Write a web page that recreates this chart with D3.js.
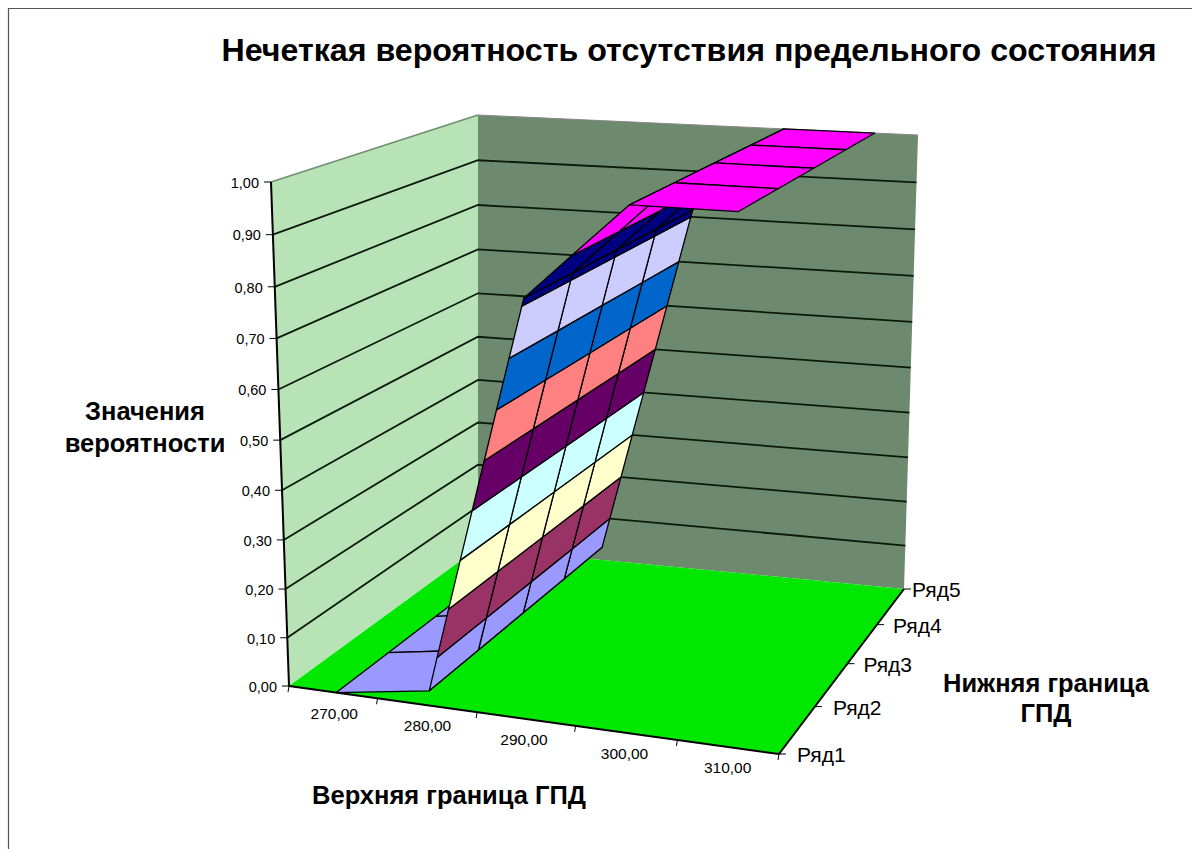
<!DOCTYPE html>
<html><head><meta charset="utf-8">
<script src="https://cdn.jsdelivr.net/npm/d3@7"></script>
<style>html,body{margin:0;padding:0;background:#fff}svg{display:block}text{font-family:"Liberation Sans",Arial,sans-serif;fill:#000}</style>
</head><body><svg id="c" width="1192" height="849"></svg>
<script>
const categories=[270,280,290,300,310];
const rowNames=["Ряд1","Ряд2","Ряд3","Ряд4","Ряд5"];
const row1=[0,0.03,0.815,1,1];
const row2=[0,0.03,0.815,1,1];
const row3=[0,0.03,0.815,1,1];
const row4=[0,0.03,0.815,1,1];
const row5=[0,0.03,0.815,1,1];
const rowsData=[row1,row2,row3,row4,row5];
const valueTicks=[0,0.1,0.2,0.3,0.4,0.5,0.6,0.7,0.8,0.9,1];
const bandColors=["#9999ff","#993366","#ffffcc","#ccffff","#660066","#ff8080","#0066cc","#ccccff","#000080","#ff00ff"];
const title="Нечеткая вероятность отсутствия предельного состояния";

const W=1192,H=849;
const svg=d3.select("#c");
// box corners on screen: [front-left, front-right, back-right, back-left]
const floorQ=[[289,686],[779,754],[904,589],[478,548]];
const topQ=[[271,182],[790,215],[918,135],[478,115]];
function quadMap(q){
  const [p0,p1,p2,p3]=q; // (0,0),(1,0),(1,1),(0,1)
  const dx1=p1[0]-p2[0],dx2=p3[0]-p2[0],sx=p0[0]-p1[0]+p2[0]-p3[0];
  const dy1=p1[1]-p2[1],dy2=p3[1]-p2[1],sy=p0[1]-p1[1]+p2[1]-p3[1];
  const d=dx1*dy2-dx2*dy1;
  const g=(sx*dy2-dx2*sy)/d,h=(dx1*sy-sx*dy1)/d;
  const a=p1[0]-p0[0]+g*p1[0],b=p3[0]-p0[0]+h*p3[0],c=p0[0];
  const e=p1[1]-p0[1]+g*p1[1],f=p3[1]-p0[1]+h*p3[1],i=p0[1];
  return (u,v)=>{const w=g*u+h*v+1;return[(a*u+b*v+c)/w,(e*u+f*v+i)/w];};
}
const fl=quadMap(floorQ),tp=quadMap(topQ);
const uScale=d3.scaleLinear().domain([265,270,275,280,290,300,310,315]).range([0,.108,.2,.313,.515,.715,.91,1]);
const vScale=d3.scalePoint().domain(rowNames).range([0,1]);
const zScale=d3.scaleLinear().domain([0,1]).range([0,1]);
const K=1.05;
function proj(u,v,z){
  const t0=zScale(z),t=t0/(t0+(1-t0)*K);
  const a=fl(u,v),b=tp(u,v);
  return[a[0]+(b[0]-a[0])*t,a[1]+(b[1]-a[1])*t];
}
const line=d3.line();
const poly=pts=>line(pts)+"Z";

// frame
svg.append("path").attr("d",`M8.5,849V8.5H${W}`).attr("fill","none").attr("stroke","#555").attr("stroke-width",1.2);

// walls and floor
svg.append("path").attr("d",poly([proj(0,0,0),proj(0,0,1),proj(0,1,1),proj(0,1,0)])).attr("fill","#b7e3b7");
svg.append("path").attr("d",poly([proj(0,1,0),proj(0,1,1),proj(1,1,1),proj(1,1,0)])).attr("fill","#6e8a6e");
svg.append("path").attr("d",poly([proj(0,0,0),proj(1,0,0),proj(1,1,0),proj(0,1,0)])).attr("fill","#00e800");
// wall edges
svg.append("path").attr("d",line([proj(0,0,1),proj(0,1,1)])).attr("fill","none").attr("stroke","#6f8f6f").attr("stroke-width",1.5);
svg.append("path").attr("d",line([proj(0,1,1),proj(1,1,1)])).attr("fill","none").attr("stroke","#888").attr("stroke-width",1);
// gridlines
valueTicks.slice(1,-1).forEach(z=>{
  svg.append("path").attr("d",line([proj(0,0,z),proj(0,1,z),proj(1,1,z)])).attr("fill","none").attr("stroke","#0a1a0a").attr("stroke-width",1.8);
});

// surface
function clip(pts,lo,hi){
  const cut=(P,inside,lev)=>{const out=[];P.forEach((a,i)=>{const b=P[(i+1)%P.length];const ia=inside(a),ib=inside(b);
    if(ia)out.push(a);
    if(ia!==ib){const s=(lev-a[2])/(b[2]-a[2]);out.push([a[0]+(b[0]-a[0])*s,a[1]+(b[1]-a[1])*s,lev]);}
  });return out;};
  let r=cut(pts,p=>p[2]>=lo,lo);
  if(r.length)r=cut(r,p=>p[2]<=hi,hi);
  return r;
}
const g=svg.append("g");
for(let c=0;c<categories.length-1;c++){
  for(let r=rowNames.length-2;r>=0;r--){
    const u0=uScale(categories[c]),u1=uScale(categories[c+1]);
    const v0=vScale(rowNames[r]),v1=vScale(rowNames[r+1]);
    const cell=[[u0,v0,rowsData[r][c]],[u1,v0,rowsData[r][c+1]],[u1,v1,rowsData[r+1][c+1]],[u0,v1,rowsData[r+1][c]]];
    bandColors.forEach((col,i)=>{
      const lo=valueTicks[i],hi=valueTicks[i+1];
      const pc=clip(cell,lo,hi);
      if(pc.length<3)return;
      const sp=pc.map(p=>proj(p[0],p[1],p[2]));
      if(Math.abs(d3.polygonArea(sp))<0.01)return;
      g.append("path").attr("d",poly(sp)).attr("fill",col).attr("stroke","#000").attr("stroke-width",1.3).attr("stroke-linejoin","round");
    });
  }
}

// axes
const axisStroke=(a,b,w)=>svg.append("path").attr("d",line([a,b])).attr("fill","none").attr("stroke","#000").attr("stroke-width",w);
axisStroke(proj(0,0,0),proj(0,0,1),2);
axisStroke(proj(0,0,0),proj(1,0,0),2);
axisStroke(proj(1,0,0),proj(1,1,0),2);
valueTicks.forEach(z=>{
  const p=proj(0,0,z);
  axisStroke([p[0]-7,p[1]],p,1);
  svg.append("text").attr("x",p[0]-12).attr("y",p[1]+1).attr("dy","0.33em").attr("text-anchor","end").attr("font-size",14.5).text(d3.format(".2f")(z).replace(".",","));
});
[265,275,285,295,305,315].forEach(e=>{const p=proj(uScale(e),0,0);axisStroke(p,[p[0]-1,p[1]+6],1);});
categories.forEach(c=>{
  const p=proj(uScale(c),0,0);
  svg.append("text").attr("x",p[0]-2).attr("y",p[1]+26).attr("text-anchor","middle").attr("font-size",15.5).text(d3.format(".2f")(c).replace(".",","));
});
const rowLabelGap=[18,18,16,16,8];
rowNames.forEach((n,i)=>{
  const p=proj(1,vScale(n),0);
  axisStroke(p,[p[0]+7,p[1]],1);
  svg.append("text").attr("x",p[0]+rowLabelGap[i]).attr("y",p[1]+1).attr("dy","0.35em").attr("font-size",21).text(n);
});

// titles
svg.append("text").attr("x",689).attr("y",61).attr("text-anchor","middle").attr("font-size",32.2).attr("font-weight","bold").text(title);
const bold=(x,y,t)=>svg.append("text").attr("x",x).attr("y",y).attr("text-anchor","middle").attr("font-size",25.5).attr("font-weight","bold").text(t);
bold(145,420,"Значения");bold(145,452,"вероятности");
bold(1046,692,"Нижняя граница");bold(1046,722,"ГПД");
bold(449,804,"Верхняя граница ГПД");
</script></body></html>
